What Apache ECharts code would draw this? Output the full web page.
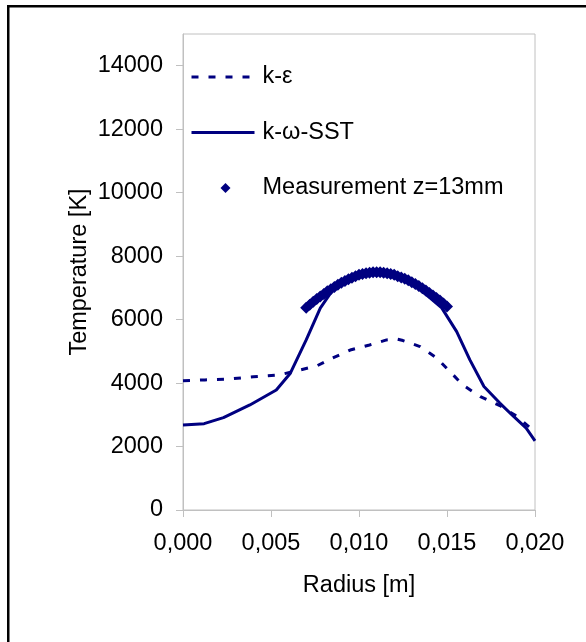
<!DOCTYPE html>
<html>
<head>
<meta charset="utf-8">
<script src="https://cdn.jsdelivr.net/npm/echarts@6/dist/echarts.min.js"></script>
<style>
  html, body { margin: 0; padding: 0; background: #fff; }
  #chart { width: 586px; height: 642px; }
</style>
</head>
<body>
<div id="chart"></div>
<script>
// Radial temperature profiles: two turbulence models and a measurement at z = 13 mm
const radiusKE = [0, 0.00125, 0.0025, 0.004, 0.0055, 0.00625, 0.0076, 0.0085, 0.0095, 0.0106, 0.01157, 0.0122, 0.0125, 0.01347, 0.0144, 0.01517, 0.0159, 0.0169, 0.018, 0.019, 0.0197, 0.02];
const tempKE   = [4070, 4100, 4120, 4200, 4260, 4360, 4540, 4790, 5040, 5200, 5360, 5380, 5340, 5150, 4800, 4360, 3940, 3570, 3290, 2940, 2600, 2520];

const radiusSST = [0, 0.0012, 0.0023, 0.0038, 0.0053, 0.0061, 0.007, 0.0078, 0.0085, 0.009, 0.010, 0.011, 0.012, 0.013, 0.014, 0.0147, 0.01555, 0.0163, 0.0171, 0.018, 0.0188, 0.0195, 0.02];
const tempSST   = [2680, 2720, 2910, 3310, 3780, 4310, 5360, 6360, 6930, 7150, 7420, 7500, 7420, 7150, 6700, 6370, 5620, 4730, 3890, 3370, 2940, 2580, 2180];

const radiusMeas = [0.0070, 0.0072, 0.0074, 0.0076, 0.0078, 0.0080, 0.0082, 0.0084, 0.0086, 0.0088,
                    0.0090, 0.0092, 0.0094, 0.0096, 0.0098, 0.0100, 0.0102, 0.0104, 0.0106, 0.0108,
                    0.0110, 0.0112, 0.0114, 0.0116, 0.0118, 0.0120, 0.0122, 0.0124, 0.0126, 0.0128,
                    0.0130, 0.0132, 0.0134, 0.0136, 0.0138, 0.0140, 0.0142, 0.0144, 0.0146, 0.0148, 0.0150];
const tempMeas   = [6370, 6470, 6560, 6650, 6730, 6810, 6890, 6960, 7030, 7100,
                    7160, 7220, 7270, 7320, 7370, 7410, 7440, 7460, 7480, 7490,
                    7490, 7490, 7480, 7460, 7440, 7410, 7370, 7330, 7290, 7240,
                    7180, 7120, 7060, 6990, 6920, 6840, 6760, 6680, 6600, 6510, 6410];

const seriesNames = ['k-\u03b5', 'k-\u03c9-SST', 'Measurement z=13mm'];
const yTicks = [0, 2000, 4000, 6000, 8000, 10000, 12000, 14000];
const xTicks = [0, 0.005, 0.010, 0.015, 0.020];

const pairs = (xs, ys) => xs.map((x, i) => [x, ys[i]]);

const FONT = '"Liberation Sans", Arial, sans-serif';
const NAVY = '#000080';
const AXIS_GRAY = '#c0c0c0';
// small diamond placed inside the full legend swatch box (63 x 10)
const LEGEND_DIAMOND = 'path://M0,0 M63,10 M34,0 L39,5 L34,10 L29,5 Z';

const chart = echarts.init(document.getElementById('chart'), null, { renderer: 'canvas' });

chart.setOption({
  animation: false,
  backgroundColor: '#ffffff',
  textStyle: { fontFamily: FONT },
  graphic: [
    { type: 'rect', shape: { x: 7, y: 5, width: 590, height: 2.5 }, style: { fill: '#000' } },
    { type: 'rect', shape: { x: 7, y: 5, width: 2.5, height: 650 }, style: { fill: '#000' } }
  ],
  grid: {
    left: 183, right: 51, top: 34, bottom: 132,
    show: true, borderColor: AXIS_GRAY, borderWidth: 1, backgroundColor: 'transparent'
  },
  legend: {
    orient: 'vertical',
    left: 185, top: 60,
    itemWidth: 63, itemHeight: 10, itemGap: 31.5,
    data: [
      { name: seriesNames[0], itemStyle: { opacity: 0 }, lineStyle: { width: 3 } },
      { name: seriesNames[1], itemStyle: { opacity: 0 }, lineStyle: { width: 3 } },
      { name: seriesNames[2], icon: LEGEND_DIAMOND }
    ],
    textStyle: { fontFamily: FONT, fontSize: 23.5, color: '#000', lineHeight: 22, padding: [0, 0, 0, 3] }
  },
  xAxis: {
    type: 'value',
    min: 0, max: 0.02, interval: 0.005,
    name: 'Radius [m]',
    nameLocation: 'middle',
    nameGap: 64,
    nameMoveOverlap: false,
    nameTextStyle: { fontFamily: FONT, fontSize: 23.5, color: '#000' },
    axisLine: { show: true, lineStyle: { color: AXIS_GRAY, width: 1 } },
    axisTick: { show: true, length: 7, lineStyle: { color: AXIS_GRAY }, customValues: xTicks },
    axisLabel: {
      color: '#000', fontFamily: FONT, fontSize: 23.5, margin: 22,
      customValues: xTicks,
      formatter: v => v.toFixed(3).replace('.', ',')
    },
    splitLine: { show: false }
  },
  yAxis: {
    type: 'value',
    min: 0, max: 15000, interval: 2000,
    name: 'Temperature [K]',
    nameLocation: 'middle',
    nameGap: 91,
    nameMoveOverlap: false,
    nameTextStyle: { fontFamily: FONT, fontSize: 23.5, color: '#000' },
    axisLine: { show: true, lineStyle: { color: AXIS_GRAY, width: 1 } },
    axisTick: { show: true, length: 7, lineStyle: { color: AXIS_GRAY }, customValues: yTicks },
    axisLabel: {
      color: '#000', fontFamily: FONT, fontSize: 23.5, margin: 20,
      customValues: yTicks,
      formatter: v => String(v)
    },
    splitLine: { show: false }
  },
  series: [
    {
      name: seriesNames[0],
      type: 'line',
      data: pairs(radiusKE, tempKE),
      showSymbol: false, symbol: 'none',
      lineStyle: { color: NAVY, width: 3, type: [7, 10] },
      itemStyle: { color: NAVY },
      z: 2
    },
    {
      name: seriesNames[1],
      type: 'line',
      data: pairs(radiusSST, tempSST),
      showSymbol: false, symbol: 'none',
      lineStyle: { color: NAVY, width: 3 },
      itemStyle: { color: NAVY },
      z: 3
    },
    {
      name: seriesNames[2],
      type: 'scatter',
      data: pairs(radiusMeas, tempMeas),
      symbol: 'diamond',
      symbolSize: 12,
      itemStyle: { color: NAVY, opacity: 1 },
      z: 4
    }
  ]
});
</script>
</body>
</html>
